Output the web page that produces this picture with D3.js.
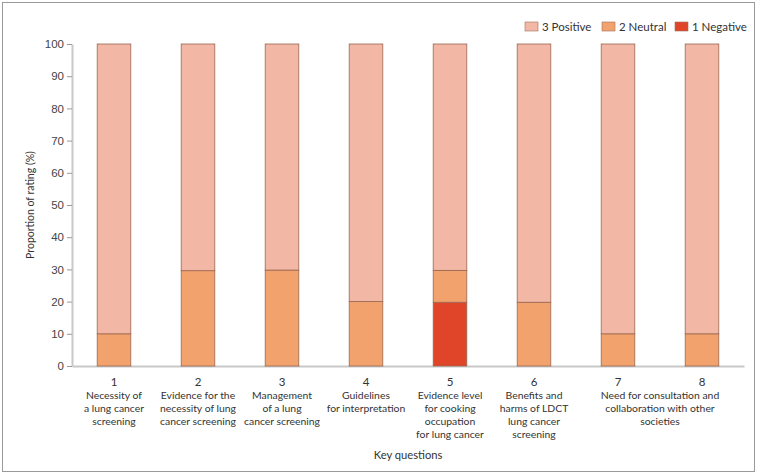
<!DOCTYPE html>
<html>
<head>
<meta charset="utf-8">
<script src="https://cdn.jsdelivr.net/npm/d3@7"></script>
<style>
  body { margin: 0; background: #fff; }
  svg { font-family: Lato, "Noto Sans", sans-serif; }
</style>
</head>
<body>
<div id="chart"></div>
<script>
// Key question numbers and their labels
const questions = ["1", "2", "3", "4", "5", "6", "7", "8"];
const questionLabels = [
    ["Necessity of", "a lung cancer", "screening"],
    ["Evidence for the", "necessity of lung", "cancer screening"],
    ["Management", "of a lung", "cancer screening"],
    ["Guidelines", "for interpretation"],
    ["Evidence level", "for cooking", "occupation", "for lung cancer"],
    ["Benefits and", "harms of LDCT", "lung cancer", "screening"],
    [],
    []
];
// questions 7 and 8 share one label
const sharedLabel = ["Need for consultation and", "collaboration with other", "societies"];

// Proportion of rating (%) per question
const negative = [0, 0, 0, 0, 19.8, 0, 0, 0];
const neutral = [10, 29.6, 29.8, 20, 9.9, 19.8, 10, 10];
const positive = [90, 70.4, 70.2, 80, 70.3, 80.2, 90, 90];

const yTicks = [0, 10, 20, 30, 40, 50, 60, 70, 80, 90, 100];

const seriesKeys = ["negative", "neutral", "positive"];
const seriesNames = { positive: "3 Positive", neutral: "2 Neutral", negative: "1 Negative" };
const colors = { positive: "#f3b8a5", neutral: "#f2a36d", negative: "#e0452a" };

const width = 757, height = 474;
const margin = { top: 44, right: 13, bottom: 108, left: 72 };

const rows = questions.map((q, i) => ({
    q: q,
    negative: negative[i],
    neutral: neutral[i],
    positive: positive[i]
}));

const svg = d3.select("#chart")
    .append("svg")
    .attr("width", width)
    .attr("height", height);

// outer frame
svg.append("rect")
    .attr("x", 2.5).attr("y", 2.5)
    .attr("width", width - 5).attr("height", height - 5)
    .attr("fill", "none")
    .attr("stroke", "#9a9a9a")
    .attr("stroke-width", 1);

const x = d3.scaleBand()
    .domain(questions)
    .range([margin.left, width - margin.right])
    .paddingInner(0.6)
    .paddingOuter(0.3);

const y = d3.scaleLinear()
    .domain([0, 100])
    .range([height - margin.bottom, margin.top]);

// Y axis
const yAxis = svg.append("g")
    .attr("transform", `translate(${margin.left},0)`)
    .call(d3.axisLeft(y).tickValues(yTicks).tickSize(5).tickPadding(3).tickSizeOuter(0));
yAxis.select(".domain").attr("stroke", "#c8c8c8").attr("stroke-width", 2);
yAxis.selectAll(".tick line").attr("stroke", "#999");
yAxis.selectAll(".tick text")
    .attr("fill", "#444")
    .attr("font-size", "11.5px")
    .attr("font-family", null);

// X axis line (no ticks)
const xAxis = svg.append("g")
    .attr("transform", `translate(0,${height - margin.bottom})`)
    .call(d3.axisBottom(x).tickSize(0).tickFormat(""));
xAxis.select(".domain").attr("stroke", "#c8c8c8").attr("stroke-width", 2);

// Stacked bars
const stack = d3.stack().keys(seriesKeys);
const layers = stack(rows);

svg.append("g")
    .selectAll("g")
    .data(layers)
    .join("g")
    .attr("fill", (d) => colors[d.key])
    .selectAll("rect")
    .data((d) => d.filter((s) => s[1] - s[0] > 0))
    .join("rect")
    .attr("x", (d) => x(d.data.q))
    .attr("y", (d) => y(d[1]))
    .attr("width", x.bandwidth())
    .attr("height", (d) => y(d[0]) - y(d[1]))
    .attr("stroke", "#9a6650")
    .attr("stroke-width", 0.8);

// Category labels
const labelTop = height - margin.bottom + 20;
const lineH = 13;
const catGroup = svg.append("g")
    .attr("fill", "#333")
    .attr("font-size", "10.4px")
    .attr("text-anchor", "middle");

questions.forEach((q, i) => {
    const cx = x(q) + x.bandwidth() / 2;
    catGroup.append("text")
        .attr("x", cx)
        .attr("y", labelTop)
        .attr("font-size", "11.5px")
        .text(q);
    questionLabels[i].forEach((line, j) => {
        catGroup.append("text")
            .attr("x", cx)
            .attr("y", labelTop + lineH * (j + 1))
            .text(line);
    });
});

const sharedX = (x("7") + x("8") + x.bandwidth()) / 2;
sharedLabel.forEach((line, j) => {
    catGroup.append("text")
        .attr("x", sharedX)
        .attr("y", labelTop + lineH * (j + 1))
        .text(line);
});

// Axis titles
svg.append("text")
    .attr("x", (margin.left + width - margin.right) / 2)
    .attr("y", 459)
    .attr("text-anchor", "middle")
    .attr("font-size", "11.2px")
    .attr("fill", "#333")
    .text("Key questions");

svg.append("text")
    .attr("transform", "rotate(-90)")
    .attr("x", -(margin.top + height - margin.bottom) / 2)
    .attr("y", 34)
    .attr("text-anchor", "middle")
    .attr("font-size", "10.5px")
    .attr("fill", "#333")
    .text("Proportion of rating (%)");

// Legend
const legendItems = [
    { key: "positive", x: 525 },
    { key: "neutral", x: 602 },
    { key: "negative", x: 675 }
];
const legend = svg.append("g").attr("font-size", "11.5px").attr("fill", "#333");
legendItems.forEach((it) => {
    legend.append("rect")
        .attr("x", it.x).attr("y", 22)
        .attr("width", 13).attr("height", 9)
        .attr("fill", colors[it.key])
        .attr("stroke", "#a07060")
        .attr("stroke-width", 0.6);
    legend.append("text")
        .attr("x", it.x + 17)
        .attr("y", 30.5)
        .text(seriesNames[it.key]);
});
</script>
</body>
</html>
